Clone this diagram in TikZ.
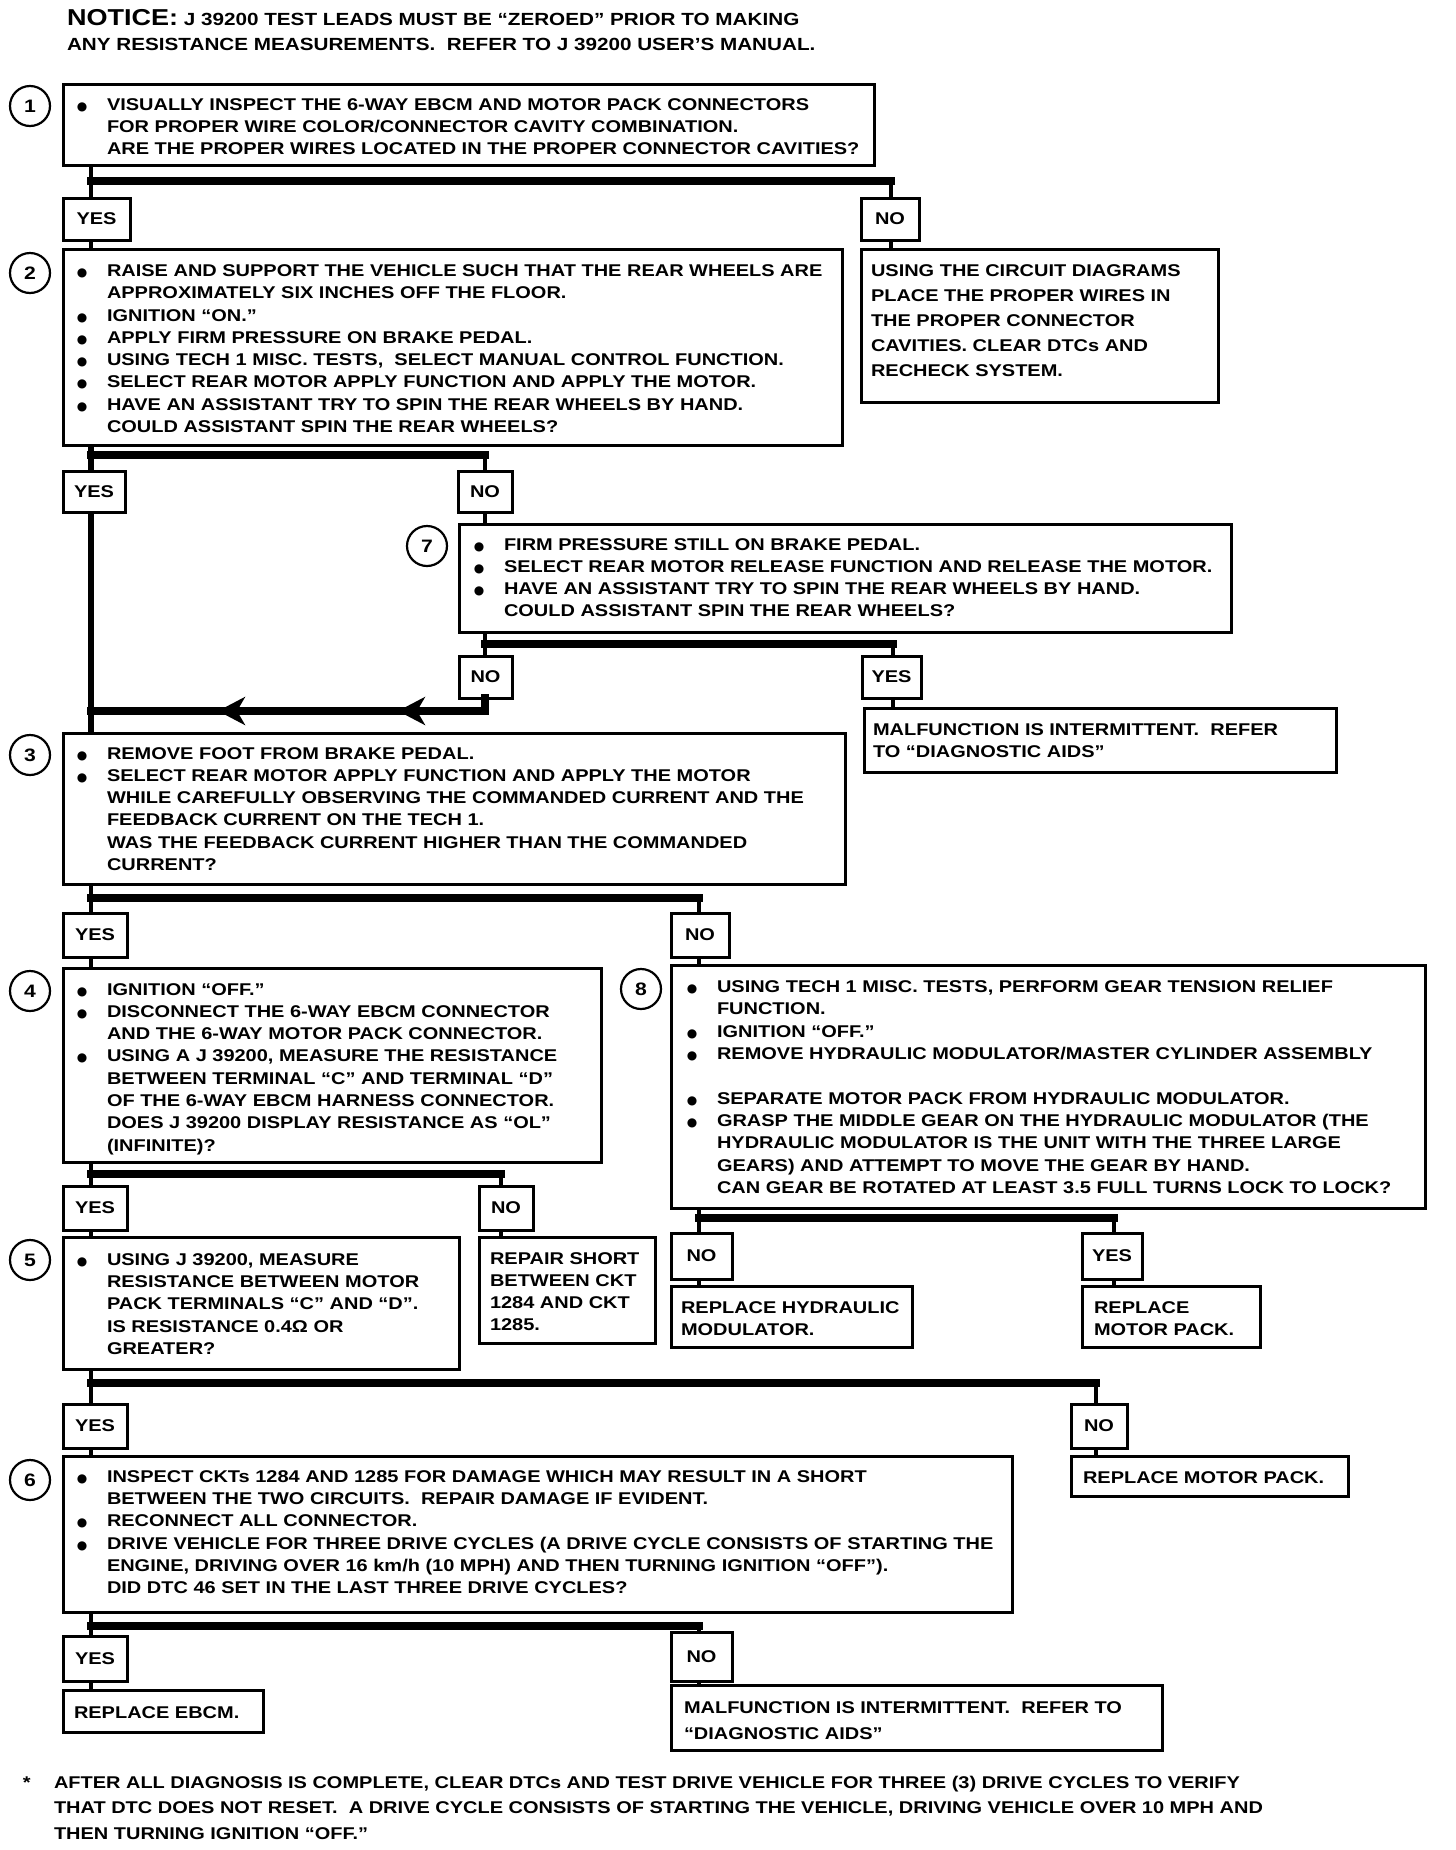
\documentclass[tikz,border=0pt]{standalone}
\usepackage{fontspec}
\newfontfamily\gm{Liberation Sans}[FakeStretch=1.175]
\newfontfamily\dv{DejaVu Sans}
\usetikzlibrary{arrows.meta}
\newcommand\bu{\leavevmode\llap{\makebox[10pt][c]{\dv\fontsize{12}{0}\selectfont ●}\hspace{20pt}}}
\newcommand\mkbox[5]{\node[bx, minimum width=#4-#2, minimum height=#5-#3] (#1) at (#2,#3) {};}
\newcommand\mklbl[6]{\node[lbl, minimum width=#5-#3, minimum height=#6-#4] (#1) at (#3,#4) {#2};}
\newcommand\st{\rule{0pt}{14pt}}
\begin{document}
\begin{tikzpicture}[x=1pt,y=-1pt,
  bx/.style={draw, line width=3pt, inner sep=0pt, outer sep=0pt, anchor=north west},
  lbl/.style={bx, font=\gm\bfseries\fontsize{17}{22}\selectfont},
  txt/.style={anchor=north west, inner sep=0pt, outer sep=0pt, align=left, font=\gm\bfseries\fontsize{17}{22.3}\selectfont},
  num/.style={draw, circle, line width=2.2pt, minimum size=40pt, inner sep=0pt, font=\gm\bfseries\fontsize{18}{20}\selectfont},
  conn/.style={line width=4pt},
  trunk/.style={line width=6pt},
  bar/.style={line width=8pt, line cap=rect},
  tip/.style={line width=8pt, -{Stealth[length=27pt,width=28pt,inset=8pt]}}]
\useasboundingbox[fill=white] (0,0) rectangle (1456,1850);

% notice
\node[txt, font=\gm\bfseries\fontsize{17.6}{24.8}\selectfont] (notice) at (67,8.35)
 {\rule{0pt}{17pt}{\fontsize{23}{24.8}\selectfont NOTICE:}\ J 39200 TEST LEADS MUST BE “ZEROED” PRIOR TO MAKING\\
  ANY RESISTANCE MEASUREMENTS.\ \ REFER TO J 39200 USER’S MANUAL.};

% boxes
\mkbox{b1}{63}{84}{874}{165}
\mkbox{b2}{63}{249}{842}{445}
\mkbox{r1}{861}{249}{1218}{402}
\mkbox{b7}{459}{524}{1231}{632}
\mkbox{m7}{864}{708}{1336}{772}
\mkbox{b3}{63}{733}{845}{884}
\mkbox{b4}{63}{968}{601}{1162}
\mkbox{b8}{671}{965}{1425}{1208}
\mkbox{b5}{63}{1237}{459}{1369}
\mkbox{rs}{479}{1237}{655}{1343}
\mkbox{rh}{671}{1286}{912}{1347}
\mkbox{rm}{1082}{1286}{1260}{1347}
\mkbox{b6}{63}{1456}{1012}{1612}
\mkbox{rm2}{1071}{1456}{1348}{1496}
\mkbox{re}{63}{1690}{263}{1732}
\mkbox{m6}{671}{1685}{1162}{1750}

% yes / no labels
\mklbl{y1}{YES}{63}{198}{130}{240}
\mklbl{n1}{NO}{861}{198}{919}{240}
\mklbl{y2}{YES}{63}{471}{125}{512}
\mklbl{n2}{NO}{458}{471}{512}{512}
\mklbl{n7}{NO}{459}{656}{512}{698}
\mklbl{y7}{YES}{862}{656}{921}{698}
\mklbl{y3}{YES}{63}{913}{127}{957}
\mklbl{n3}{NO}{671}{913}{729}{957}
\mklbl{y4}{YES}{63}{1186}{127}{1230}
\mklbl{n4}{NO}{479}{1186}{533}{1230}
\mklbl{n8}{NO}{671}{1233}{732}{1279}
\mklbl{y8}{YES}{1082}{1233}{1142}{1279}
\mklbl{y5}{YES}{63}{1404}{127}{1448}
\mklbl{n5}{NO}{1071}{1404}{1127}{1448}
\mklbl{y6}{YES}{63}{1636}{127}{1681}
\mklbl{n6}{NO}{671}{1632}{732}{1681}

% step numbers
\node[num] (c1) at (30,106) {1};
\node[num] (c2) at (30,273) {2};
\node[num] (c7) at (427,546) {7};
\node[num] (c3) at (30,755) {3};
\node[num] (c4) at (30,991) {4};
\node[num] (c8) at (641,989) {8};
\node[num] (c5) at (30,1260) {5};
\node[num] (c6) at (30,1480) {6};

% texts
\node[txt] (t1) at (107,96) {\st\bu VISUALLY INSPECT THE 6-WAY EBCM AND MOTOR PACK CONNECTORS\\
 FOR PROPER WIRE COLOR/CONNECTOR CAVITY COMBINATION.\\
 ARE THE PROPER WIRES LOCATED IN THE PROPER CONNECTOR CAVITIES?};
\node[txt] (t2) at (107,262.4) {\st\bu RAISE AND SUPPORT THE VEHICLE SUCH THAT THE REAR WHEELS ARE\\
 APPROXIMATELY SIX INCHES OFF THE FLOOR.\\
 \bu IGNITION “ON.”\\
 \bu APPLY FIRM PRESSURE ON BRAKE PEDAL.\\
 \bu USING TECH 1 MISC. TESTS,\ \ SELECT MANUAL CONTROL FUNCTION.\\
 \bu SELECT REAR MOTOR APPLY FUNCTION AND APPLY THE MOTOR.\\
 \bu HAVE AN ASSISTANT TRY TO SPIN THE REAR WHEELS BY HAND.\\
 COULD ASSISTANT SPIN THE REAR WHEELS?};
\node[txt, font=\gm\bfseries\fontsize{17}{25.1}\selectfont] (tr1) at (871,262.4) {\st USING THE CIRCUIT DIAGRAMS\\
 PLACE THE PROPER WIRES IN\\ THE PROPER CONNECTOR\\ CAVITIES. CLEAR DTCs AND\\ RECHECK SYSTEM.};
\node[txt] (t7) at (504,536) {\st\bu FIRM PRESSURE STILL ON BRAKE PEDAL.\\
 \bu SELECT REAR MOTOR RELEASE FUNCTION AND RELEASE THE MOTOR.\\
 \bu HAVE AN ASSISTANT TRY TO SPIN THE REAR WHEELS BY HAND.\\
 COULD ASSISTANT SPIN THE REAR WHEELS?};
\node[txt, font=\gm\bfseries\fontsize{17}{22.4}\selectfont] (tm7) at (873,721.4) {\st MALFUNCTION IS INTERMITTENT.\ \ REFER\\ TO “DIAGNOSTIC AIDS”};
\node[txt] (t3) at (107,745) {\st\bu REMOVE FOOT FROM BRAKE PEDAL.\\
 \bu SELECT REAR MOTOR APPLY FUNCTION AND APPLY THE MOTOR\\
 WHILE CAREFULLY OBSERVING THE COMMANDED CURRENT AND THE\\
 FEEDBACK CURRENT ON THE TECH 1.\\
 WAS THE FEEDBACK CURRENT HIGHER THAN THE COMMANDED\\
 CURRENT?};
\node[txt] (t4) at (107,981) {\st\bu IGNITION “OFF.”\\
 \bu DISCONNECT THE 6-WAY EBCM CONNECTOR\\
 AND THE 6-WAY MOTOR PACK CONNECTOR.\\
 \bu USING A J 39200, MEASURE THE RESISTANCE\\
 BETWEEN TERMINAL “C” AND TERMINAL “D”\\
 OF THE 6-WAY EBCM HARNESS CONNECTOR.\\
 DOES J 39200 DISPLAY RESISTANCE AS “OL”\\
 (INFINITE)?};
\node[txt] (t8) at (717,978.6) {\st\bu USING TECH 1 MISC. TESTS, PERFORM GEAR TENSION RELIEF\\
 FUNCTION.\\
 \bu IGNITION “OFF.”\\
 \bu REMOVE HYDRAULIC MODULATOR/MASTER CYLINDER ASSEMBLY\\
 \mbox{}\\
 \bu SEPARATE MOTOR PACK FROM HYDRAULIC MODULATOR.\\
 \bu GRASP THE MIDDLE GEAR ON THE HYDRAULIC MODULATOR (THE\\
 HYDRAULIC MODULATOR IS THE UNIT WITH THE THREE LARGE\\
 GEARS) AND ATTEMPT TO MOVE THE GEAR BY HAND.\\
 CAN GEAR BE ROTATED AT LEAST 3.5 FULL TURNS LOCK TO LOCK?};
\node[txt] (t5) at (107,1251.2) {\st\bu USING J 39200, MEASURE\\
 RESISTANCE BETWEEN MOTOR\\
 PACK TERMINALS “C” AND “D”.\\
 IS RESISTANCE 0.4Ω OR\\
 GREATER?};
\node[txt] (trs) at (490,1250) {\st REPAIR SHORT\\ BETWEEN CKT\\ 1284 AND CKT\\ 1285.};
\node[txt] (trh) at (681,1299.6) {\st REPLACE HYDRAULIC\\ MODULATOR.};
\node[txt] (trm) at (1094,1299.6) {\st REPLACE\\ MOTOR PACK.};
\node[txt] (t6) at (107,1468.2) {\st\bu INSPECT CKTs 1284 AND 1285 FOR DAMAGE WHICH MAY RESULT IN A SHORT\\
 BETWEEN THE TWO CIRCUITS.\ \ REPAIR DAMAGE IF EVIDENT.\\
 \bu RECONNECT ALL CONNECTOR.\\
 \bu DRIVE VEHICLE FOR THREE DRIVE CYCLES (A DRIVE CYCLE CONSISTS OF STARTING THE\\
 ENGINE, DRIVING OVER 16 km/h (10 MPH) AND THEN TURNING IGNITION “OFF”).\\
 DID DTC 46 SET IN THE LAST THREE DRIVE CYCLES?};
\node[txt] (trm2) at (1083,1469.5) {\st REPLACE MOTOR PACK.};
\node[txt] (tre) at (74,1704.2) {\st REPLACE EBCM.};
\node[txt, font=\gm\bfseries\fontsize{17}{26}\selectfont] (tm6) at (684,1699.6) {\st MALFUNCTION IS INTERMITTENT.\ \ REFER TO\\ “DIAGNOSTIC AIDS”};

% footnote
\node[txt] (star) at (23,1774) {\st *};
\node[txt, font=\gm\bfseries\fontsize{17}{25.7}\selectfont] (fn) at (54,1774) {\st AFTER ALL DIAGNOSIS IS COMPLETE, CLEAR DTCs AND TEST DRIVE VEHICLE FOR THREE (3) DRIVE CYCLES TO VERIFY\\
 THAT DTC DOES NOT RESET.\ \ A DRIVE CYCLE CONSISTS OF STARTING THE VEHICLE, DRIVING VEHICLE OVER 10 MPH AND\\
 THEN TURNING IGNITION “OFF.”};

% connectors
\coordinate (k1) at (91,181); \coordinate (k1r) at (891,181);
\draw[conn] (b1.south -| k1) -- (y1.north -| k1);
\draw[bar] (k1) -- (k1r);
\draw[conn] (k1r) -- (n1.north -| k1r);
\draw[conn] (y1.south -| k1) -- (b2.north -| k1);
\draw[conn] (n1.south -| k1r) -- (r1.north -| k1r);

\coordinate (k2) at (91,455); \coordinate (k2r) at (485,455);
\draw[trunk] (b2.south -| k2) -- (y2.north -| k2);
\draw[bar] (k2) -- (k2r);
\draw[conn] (k2r) -- (n2.north -| k2r);
\draw[trunk] (y2.south -| k2) -- (b3.north -| k2);
\draw[conn] (n2.south -| k2r) -- (b7.north -| k2r);

\coordinate (k7) at (485,644); \coordinate (k7r) at (893,644);
\draw[conn] (b7.south -| k7) -- (n7.north -| k7);
\draw[bar] (k7) -- (k7r);
\draw[conn] (k7r) -- (y7.north -| k7r);
\draw[conn] (y7.south -| k7r) -- (m7.north -| k7r);
\coordinate (rt) at (485,711);
\draw[bar] (n7.south -| rt) -- (rt) -- (rt -| k2);
\coordinate (a1) at (218,711); \coordinate (a1s) at (250,711);
\coordinate (a2) at (398,711); \coordinate (a2s) at (430,711);
\draw[tip] (a1s) -- (a1);
\draw[tip] (a2s) -- (a2);

\coordinate (k3) at (91,898); \coordinate (k3r) at (699,898);
\draw[conn] (b3.south -| k3) -- (y3.north -| k3);
\draw[bar] (k3) -- (k3r);
\draw[conn] (k3r) -- (n3.north -| k3r);
\draw[conn] (y3.south -| k3) -- (b4.north -| k3);
\draw[conn] (n3.south -| k3r) -- (b8.north -| k3r);

\coordinate (k4) at (91,1174); \coordinate (k4r) at (501,1174);
\draw[conn] (b4.south -| k4) -- (y4.north -| k4);
\draw[bar] (k4) -- (k4r);
\draw[conn] (k4r) -- (n4.north -| k4r);
\draw[conn] (y4.south -| k4) -- (b5.north -| k4);
\draw[conn] (n4.south -| k4r) -- (rs.north -| k4r);

\coordinate (k8) at (699,1218); \coordinate (k8r) at (1114,1218);
\draw[conn] (b8.south -| k8) -- (n8.north -| k8);
\draw[bar] (k8) -- (k8r);
\draw[conn] (k8r) -- (y8.north -| k8r);
\draw[conn] (n8.south -| k8) -- (rh.north -| k8);
\draw[conn] (y8.south -| k8r) -- (rm.north -| k8r);

\coordinate (k5) at (91,1383); \coordinate (k5r) at (1096,1383);
\draw[conn] (b5.south -| k5) -- (y5.north -| k5);
\draw[bar] (k5) -- (k5r);
\draw[conn] (k5r) -- (n5.north -| k5r);
\draw[conn] (y5.south -| k5) -- (b6.north -| k5);
\draw[conn] (n5.south -| k5r) -- (rm2.north -| k5r);

\coordinate (k6) at (91,1626); \coordinate (k6r) at (699,1626);
\draw[conn] (b6.south -| k6) -- (y6.north -| k6);
\draw[bar] (k6) -- (k6r);
\draw[conn] (k6r) -- (n6.north -| k6r);
\draw[conn] (y6.south -| k6) -- (re.north -| k6);
\draw[conn] (n6.south -| k6r) -- (m6.north -| k6r);
\end{tikzpicture}
\end{document}
